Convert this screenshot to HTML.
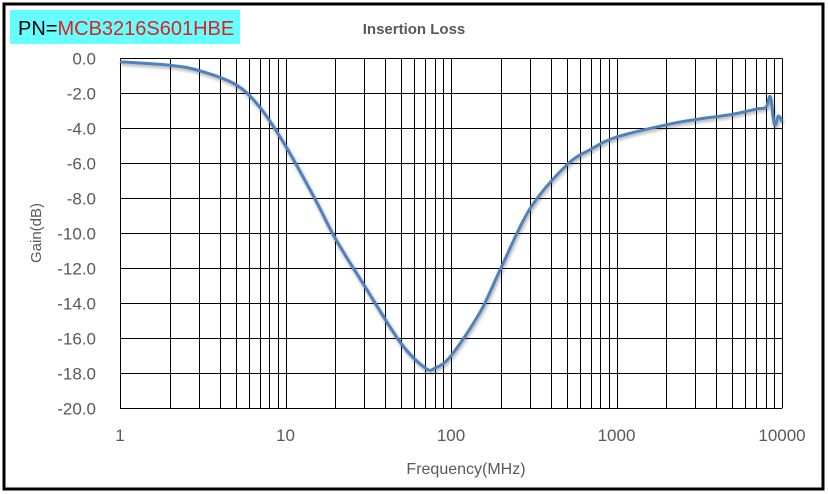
<!DOCTYPE html>
<html><head><meta charset="utf-8"><style>
body{margin:0;background:#fff;}
svg{display:block;font-family:"Liberation Sans",sans-serif;}
</style></head><body>
<svg id="chart" width="828" height="494">
<defs><filter id="sh" x="-5%" y="-5%" width="110%" height="110%"><feGaussianBlur in="SourceAlpha" stdDeviation="1.5"/><feOffset dx="1" dy="2"/><feComponentTransfer><feFuncA type="linear" slope="0.35"/></feComponentTransfer><feMerge><feMergeNode/><feMergeNode in="SourceGraphic"/></feMerge></filter></defs>
<rect x="4" y="4" width="819" height="485" fill="#fff" stroke="#000" stroke-width="3"/>
<rect x="10" y="10" width="230" height="34" fill="#66ffff"/>
<text x="18" y="35" font-size="20" fill="#000">PN=<tspan fill="#e02020">MCB3216S601HBE</tspan></text>
<text x="414" y="34" font-size="15" font-weight="bold" fill="#595959" text-anchor="middle">Insertion Loss</text>
<g id="grid"></g>
<g id="ylabels"></g>
<g id="xlabels"></g>
<text x="466" y="474" font-size="16" fill="#595959" text-anchor="middle">Frequency(MHz)</text>
<text transform="translate(41,233) rotate(-90)" font-size="15" fill="#595959" text-anchor="middle">Gain(dB)</text>
<path id="series" fill="none" stroke="#4f81bd" stroke-width="3" stroke-linejoin="round" filter="url(#sh)"/>
</svg>
<script>
const freqs=[1,2,3,5,7,10,15,20,30,50,70,80,100,150,200,300,500,700,1000,2000,3000,5000,7000,8000,8500,9000,9500,10000];
const gains=[-0.2,-0.4,-0.7,-1.5,-2.8,-5,-8,-10.3,-13,-16.3,-17.7,-17.7,-17.0,-14.5,-12,-8.6,-6.1,-5.2,-4.5,-3.8,-3.5,-3.2,-2.9,-2.8,-2.2,-3.8,-3.3,-3.6];
const yTicks=[0,-2,-4,-6,-8,-10,-12,-14,-16,-18,-20];
const xTickLabels=["1","10","100","1000","10000"];
const X0=120,X1=782,Y0=58.3,Y1=408.3;
const xs=f=>X0+(X1-X0)*Math.log10(f)/4;
const ys=v=>Y0+(Y1-Y0)*(0-v)/20;
const NS="http://www.w3.org/2000/svg";
const grid=document.getElementById('grid'),yl=document.getElementById('ylabels'),xl=document.getElementById('xlabels');
function line(x1,y1,x2,y2){const l=document.createElementNS(NS,'line');l.setAttribute('x1',x1);l.setAttribute('y1',y1);l.setAttribute('x2',x2);l.setAttribute('y2',y2);l.setAttribute('stroke','#000');l.setAttribute('stroke-width','1');


grid.appendChild(l);}
yTicks.forEach(v=>{const y=Math.round(ys(v))+0.5;line(X0,y,X1,y);
const t=document.createElementNS(NS,'text');t.setAttribute('x',96);t.setAttribute('y',y+6);t.setAttribute('text-anchor','end');t.setAttribute('font-size','17');t.setAttribute('fill','#595959');t.textContent=v.toFixed(1);


yl.appendChild(t);});
for(let d=0;d<4;d++){for(let m=1;m<=9;m++){const x=Math.round(xs(m*Math.pow(10,d)))+0.5;line(x,Y0,x,Y1);}}
line(Math.round(X1)+0.5,Y0,Math.round(X1)+0.5,Y1);
xTickLabels.forEach((s,i)=>{const t=document.createElementNS(NS,'text');t.setAttribute('x',xs(Math.pow(10,i)));t.setAttribute('y',441);t.setAttribute('text-anchor','middle');t.setAttribute('font-size','17');t.setAttribute('fill','#595959');t.textContent=s;


xl.appendChild(t);});
const pts=freqs.map((f,i)=>[xs(f),ys(gains[i])]);
let d='M'+pts[0][0]+','+pts[0][1];
for(let i=0;i<pts.length-1;i++){const p0=pts[Math.max(0,i-1)],p1=pts[i],p2=pts[i+1],p3=pts[Math.min(pts.length-1,i+2)];
const c1x=p1[0]+(p2[0]-p0[0])/6,c1y=p1[1]+(p2[1]-p0[1])/6,c2x=p2[0]-(p3[0]-p1[0])/6,c2y=p2[1]-(p3[1]-p1[1])/6;
d+=` C${c1x},${c1y} ${c2x},${c2y} ${p2[0]},${p2[1]}`;}
document.getElementById('series').setAttribute('d',d);
</script>
</body></html>
